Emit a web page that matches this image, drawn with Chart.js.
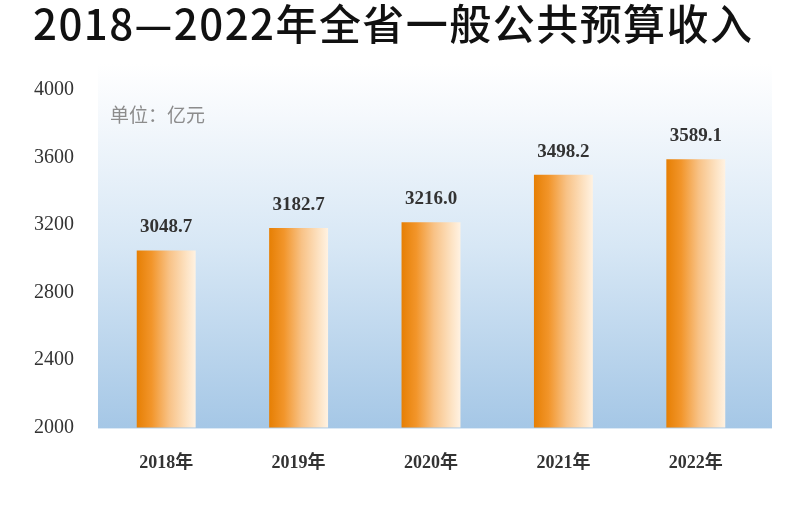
<!DOCTYPE html>
<html><head><meta charset="utf-8">
<script src="https://cdn.jsdelivr.net/npm/chart.js@4"></script>
<style>html,body{margin:0;padding:0;background:#fff}#wrap{width:810px;height:509px}</style>
</head><body><div id="wrap"><canvas id="c" width="810" height="509"></canvas></div>
<script>
const titleText = '2018—2022年全省一般公共预算收入';
const unitText = '单位：亿元';
const categories = ['2018年','2019年','2020年','2021年','2022年'];
const revenue = [3048.7, 3182.7, 3216.0, 3498.2, 3589.1];
const valueLabels = ['3048.7','3182.7','3216.0','3498.2','3589.1'];
const yTicks = [2000, 2400, 2800, 3200, 3600, 4000];

const SERIF = '"Liberation Serif","Times New Roman","Noto Sans CJK SC",serif';

const titlePlugin = {
  id: 'titlePlugin',
  afterDraw(chart) {
    const {ctx} = chart;
    ctx.save();
    ctx.fillStyle = '#111111';
    ctx.font = '500 42px "Noto Sans CJK SC", sans-serif';
    ctx.textBaseline = 'middle';
    ctx.textAlign = 'left';
    const targetW = 719;
    const n = [...titleText].length;
    const w0 = ctx.measureText(titleText).width;
    const sp = (targetW - w0) / (n - 1);
    ctx.letterSpacing = sp + 'px';
    ctx.fillText(titleText, 33, 24);
    ctx.restore();
  }
};

const bgPlugin = {
  id: 'bgPlugin',
  beforeDatasetsDraw(chart) {
    const {ctx, chartArea: a} = chart;
    const top = a.top - 26, bottom = a.bottom + 1, left = a.left - 2, right = a.right + 10;
    const g = ctx.createLinearGradient(0, top, 0, bottom);
    g.addColorStop(0, '#ffffff');
    g.addColorStop(0.15, '#f4f8fc');
    g.addColorStop(0.5, '#d7e7f5');
    g.addColorStop(1, '#a5c7e6');
    ctx.save();
    ctx.fillStyle = g;
    ctx.fillRect(left, top, right - left, bottom - top);
    ctx.fillStyle = '#8c8c8c';
    ctx.font = '19px "Noto Sans CJK SC", sans-serif';
    ctx.textBaseline = 'middle';
    ctx.textAlign = 'left';
    ctx.fillText(unitText, a.left + 10, a.top + 25);
    ctx.restore();
  }
};

const labelPlugin = {
  id: 'labelPlugin',
  afterDatasetsDraw(chart) {
    const {ctx} = chart;
    const meta = chart.getDatasetMeta(0);
    ctx.save();
    ctx.fillStyle = '#333333';
    ctx.font = 'bold 19px ' + SERIF;
    ctx.textAlign = 'center';
    ctx.textBaseline = 'middle';
    meta.data.forEach((bar, i) => {
      ctx.fillText(valueLabels[i], bar.x, bar.y - 23);
    });
    ctx.restore();
  }
};

function barGradient(context) {
  const chart = context.chart;
  const a = chart.chartArea;
  if (!a) return '#f0901a';
  const xs = chart.scales.x;
  const cx = xs.getPixelForValue(context.dataIndex);
  const w = (a.right - a.left) / categories.length * 0.445;
  const g = chart.ctx.createLinearGradient(cx - w / 2, 0, cx + w / 2, 0);
  g.addColorStop(0, '#e67f04');
  g.addColorStop(0.25, '#f2952a');
  g.addColorStop(0.55, '#f8c286');
  g.addColorStop(0.85, '#fde3c4');
  g.addColorStop(1, '#fff2e2');
  return g;
}

new Chart(document.getElementById('c'), {
  type: 'bar',
  data: {
    labels: categories,
    datasets: [{
      data: revenue,
      backgroundColor: barGradient,
      borderWidth: 0,
      barPercentage: 0.445,
      categoryPercentage: 1
    }]
  },
  options: {
    responsive: false,
    animation: false,
    devicePixelRatio: 1,
    layout: { padding: { left: 8, right: 48, top: 90, bottom: 10 } },
    plugins: {
      legend: { display: false },
      tooltip: { enabled: false },
      title: { display: false }
    },
    scales: {
      x: {
        grid: { display: false, drawTicks: false },
        border: { display: false },
        ticks: { color: '#333333', font: { family: SERIF, size: 18, weight: 'bold' }, padding: 25 }
      },
      y: {
        min: 2000, max: 4000,
        afterBuildTicks(scale) { scale.ticks = yTicks.map(v => ({value: v})); },
        grid: { display: false, drawTicks: false },
        border: { display: false },
        ticks: {
          color: '#333333', font: { family: SERIF, size: 20 }, padding: 26,
          callback: (v) => String(v)
        }
      }
    }
  },
  plugins: [bgPlugin, labelPlugin, titlePlugin]
});
</script>
</body></html>
